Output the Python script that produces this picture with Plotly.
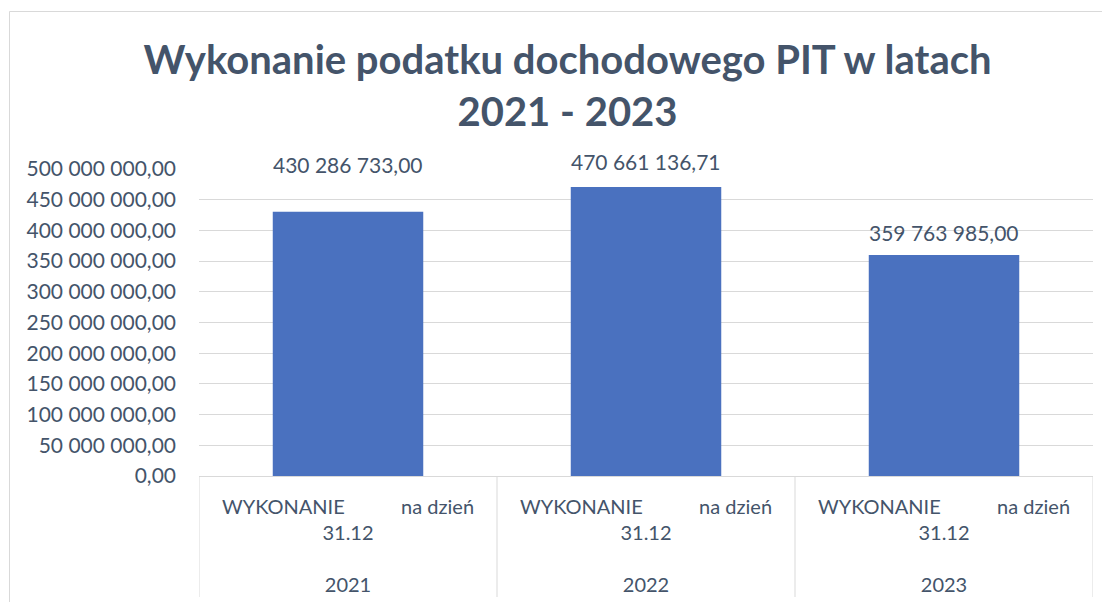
import plotly.graph_objects as go

years = ["2021", "2022", "2023"]
category_label = "WYKONANIE" + "\u00a0" * 11 + "na dzień<br>31.12"
values = [430286733.00, 470661136.71, 359763985.00]
y_ticks = [0, 50e6, 100e6, 150e6, 200e6, 250e6, 300e6, 350e6, 400e6, 450e6, 500e6]

TEXT = "#44546A"
GRID = "#D9D9D9"
BAR = "#4A71BF"
FONT = "Lato"

OFF = 8  # page body margin
W, H = 1110 - OFF, 602 - OFF
L, T = 199 - OFF, 169 - OFF
R = W - (1093 - OFF)
B = H - (476 - OFF)
pw, ph = W - L - R, H - T - B


def px_x(p):
    return (p - OFF - L) / pw


def px_y(p):
    return (H - B - (p - OFF)) / ph


def fmt(v):
    s = f"{v:,.2f}"
    return s.replace(",", " ").replace(".", ",")


tick_text = [f"{category_label}<br><br>{y}" for y in years]

fig = go.Figure()
fig.add_trace(go.Bar(
    x=years, y=values, marker=dict(color=BAR, line=dict(width=0)),
    width=0.505, hoverinfo="skip",
))

label_yshift = [47, 26, 23]
for i, (yv, sh) in enumerate(zip(values, label_yshift)):
    fig.add_annotation(x=i, y=yv, xref="x", yref="y", text=fmt(yv), showarrow=False,
                       yshift=sh, yanchor="middle",
                       font=dict(family=FONT, size=21, color=TEXT))

shapes = []
for i in range(len(years) + 1):
    shapes.append(dict(type="line", xref="x", yref="paper", x0=i - 0.5, x1=i - 0.5,
                       y0=0, y1=px_y(597), line=dict(color=GRID, width=1)))
shapes.append(dict(type="rect", xref="paper", yref="paper", x0=px_x(9.5), x1=px_x(1109.5),
                   y0=px_y(607), y1=px_y(11.5), line=dict(color=GRID, width=1),
                   fillcolor="rgba(0,0,0,0)", layer="below"))

fig.update_layout(
    width=W, height=H,
    margin=dict(l=L, r=R, t=T, b=B, autoexpand=False),
    paper_bgcolor="white", plot_bgcolor="white",
    separators=", ",
    showlegend=False,
    title=dict(text="Wykonanie podatku dochodowego PIT w latach<br>2021 - 2023",
               x=px_x(567.5), xref="paper", xanchor="center", y=1 - (74 - OFF) / H,
               yanchor="middle", automargin=False,
               font=dict(family=FONT, size=40, color=TEXT, weight="bold")),
    shapes=shapes,
    bargap=0.5,
)
fig.update_yaxes(range=[0, 500e6], tickvals=y_ticks, tickformat=",.2f",
                 showgrid=True, gridcolor=GRID, gridwidth=1, zeroline=False,
                 showline=False, ticks="", ticklabelstandoff=22, automargin=False,
                 tickfont=dict(family=FONT, size=21, color=TEXT), fixedrange=True)
fig.update_xaxes(type="category", tickvals=years, ticktext=tick_text, showgrid=False,
                 showline=True, linecolor=GRID, linewidth=1, ticks="", range=[-0.5, 2.5],
                 tickfont=dict(family=FONT, size=20, color=TEXT), tickangle=0,
                 ticklabelstandoff=13, automargin=False, fixedrange=True)

fig.write_html("out.html")
